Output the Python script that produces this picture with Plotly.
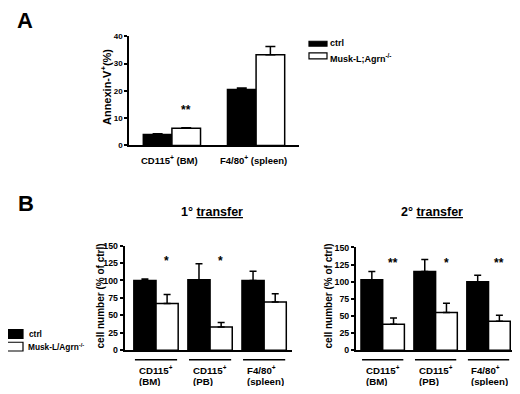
import plotly.graph_objects as go

# The page body has an 8px margin, so the figure is sized/offset to compensate.
OFF = 8
W, H = 520 - OFF, 394 - OFF

# ---------------- data ----------------
a_cats = ["CD115<sup>+</sup> (BM)", "F4/80<sup>+</sup> (spleen)"]
a_ctrl = [4.0, 20.5]
a_ctrl_err = [0.3, 0.6]
a_ko = [6.3, 33.3]
a_ko_err = [0.2, 3.0]
a_sig = ["**", "*"]
a_sig_y = [12.9, 40.7]

b_cat_line1 = ["CD115<sup>+</sup>", "CD115<sup>+</sup>", "F4/80<sup>+</sup>"]
b_cat_line2 = ["(BM)", "(PB)", "(spleen)"]

b1_ctrl = [100, 101, 100]
b1_ctrl_err = [2, 23, 13]
b1_ko = [67, 33.5, 69]
b1_ko_err = [13, 6.5, 12]
b1_sig = ["*", "*", ""]

b2_ctrl = [103, 115, 100]
b2_ctrl_err = [12, 17.5, 9.5]
b2_ko = [38, 55, 42.5]
b2_ko_err = [9, 13.5, 8.5]
b2_sig = ["**", "*", "**"]

sig_y_b = 128

legend_a = ["ctrl", "Musk-L;Agrn<sup>-/-</sup>"]
legend_b = ["ctrl", "Musk-L/Agrn<sup>-/-</sup>"]

FONT = "Arial, Liberation Sans, sans-serif"


def fx(x):
    return (x - OFF) / W


def fy(y):
    return 1 - (y - OFF) / H


fig = go.Figure()


def add_pair(ctrl, ctrl_err, ko, ko_err, xa, ya, w, cap):
    xs = list(range(len(ctrl)))
    common = dict(xaxis=xa, yaxis=ya, width=[w] * len(xs), showlegend=False,
                  marker_line=dict(color="black", width=1.5))
    fig.add_trace(go.Bar(x=xs, y=ctrl, offset=-w, marker_color="black",
                         error_y=dict(type="data", array=ctrl_err, arrayminus=[0] * len(xs),
                                      symmetric=False, color="black", thickness=1.5, width=cap),
                         **common))
    fig.add_trace(go.Bar(x=xs, y=ko, offset=0, marker_color="white",
                         error_y=dict(type="data", array=ko_err, arrayminus=[0] * len(xs),
                                      symmetric=False, color="black", thickness=1.5, width=cap),
                         **common))


add_pair(a_ctrl, a_ctrl_err, a_ko, a_ko_err, "x", "y", 0.34, 5)
add_pair(b1_ctrl, b1_ctrl_err, b1_ko, b1_ko_err, "x2", "y2", 0.41, 3.5)
add_pair(b2_ctrl, b2_ctrl_err, b2_ko, b2_ko_err, "x3", "y3", 0.41, 3.5)


def bold(size):
    return dict(family=FONT, size=size, color="black", weight="bold")


yax_common = dict(showline=True, linecolor="black", linewidth=1.5, ticks="outside",
                  ticklen=3, tickwidth=1.5, tickcolor="black", showgrid=False,
                  zeroline=False)
xax_common = dict(showline=True, linecolor="black", linewidth=1.5, ticks="",
                  showticklabels=False, showgrid=False, zeroline=False)

fig.update_layout(
    width=W, height=H,
    margin=dict(l=0, r=0, t=0, b=0),
    paper_bgcolor="white", plot_bgcolor="white",
    barmode="overlay",
    xaxis=dict(domain=[fx(129), fx(299)], range=[-0.51, 1.51], anchor="y", **xax_common),
    yaxis=dict(domain=[fy(144), fy(32)], range=[0, 40], tickvals=[0, 10, 20, 30, 40],
               anchor="x", tickfont=bold(8), **yax_common),
    xaxis2=dict(domain=[fx(124.5), fx(291.7)], range=[-0.583, 2.51], anchor="y2", **xax_common),
    yaxis2=dict(domain=[fy(354.3), fy(246.7)], range=[0, 150], tickvals=[0, 25, 50, 75, 100, 125, 150],
                anchor="x2", tickfont=bold(8.8), **yax_common),
    xaxis3=dict(domain=[fx(355.7), fx(515)], range=[-0.51, 2.5], anchor="y3", **xax_common),
    yaxis3=dict(domain=[fy(354.3), fy(248.7)], range=[0, 150], tickvals=[0, 25, 50, 75, 100, 125, 150],
                anchor="x3", tickfont=bold(8.8), **yax_common),
)

ann = []
shapes = []

# panel letters
ann.append(dict(text="A", x=fx(25), y=fy(16), xref="paper", yref="paper", showarrow=False,
                font=bold(22), xanchor="center", yanchor="middle"))
ann.append(dict(text="B", x=fx(26), y=fy(204), xref="paper", yref="paper", showarrow=False,
                font=bold(22), xanchor="center", yanchor="middle"))

# panel A y title and category labels
ann.append(dict(text="Annexin-V<sup>+</sup>(%)", x=fx(106), y=fy(84), xref="paper", yref="paper",
                showarrow=False, textangle=-90, font=bold(11), xanchor="center", yanchor="middle"))
for i, c in enumerate(a_cats):
    ann.append(dict(text=c, x=i - 0.03, y=fy(159), xref="x", yref="paper", showarrow=False,
                    font=bold(9.5), xanchor="center", yanchor="middle"))
for i, s in enumerate(a_sig):
    ann.append(dict(text=s, x=i + 0.17, y=a_sig_y[i], xref="x", yref="y", showarrow=False,
                    font=bold(12), xanchor="center", yanchor="middle"))

# panel A legend
shapes.append(dict(type="rect", xref="paper", yref="paper", x0=fx(309), x1=fx(327), y0=fy(42), y1=fy(37),
                   fillcolor="black", line=dict(color="black", width=1.2)))
shapes.append(dict(type="rect", xref="paper", yref="paper", x0=fx(309), x1=fx(327), y0=fy(55), y1=fy(49),
                   fillcolor="white", line=dict(color="black", width=1.2)))
ann.append(dict(text=legend_a[0], x=fx(328), y=fy(39), xref="paper", yref="paper", showarrow=False,
                font=bold(9), xanchor="left", yanchor="middle"))
ann.append(dict(text=legend_a[1], x=fx(328), y=fy(54), xref="paper", yref="paper", showarrow=False,
                font=bold(9), xanchor="left", yanchor="middle"))

# panel B legend
shapes.append(dict(type="rect", xref="paper", yref="paper", x0=fx(6), x1=fx(23), y0=fy(342), y1=fy(333),
                   fillcolor="black", line=dict(color="black", width=1.2)))
shapes.append(dict(type="rect", xref="paper", yref="paper", x0=fx(6), x1=fx(23), y0=fy(355), y1=fy(346),
                   fillcolor="white", line=dict(color="black", width=1.2)))
ann.append(dict(text=legend_b[0], x=fx(27), y=fy(338), xref="paper", yref="paper", showarrow=False,
                font=bold(8.3), xanchor="left", yanchor="middle"))
ann.append(dict(text=legend_b[1], x=fx(26), y=fy(351), xref="paper", yref="paper", showarrow=False,
                font=bold(8.3), xanchor="left", yanchor="middle"))

# panel B titles
ann.append(dict(text="1° <u>transfer</u>", x=fx(211.5), y=fy(212.5), xref="paper", yref="paper",
                showarrow=False, font=bold(12.5), xanchor="center", yanchor="middle"))
ann.append(dict(text="2° <u>transfer</u>", x=fx(431.5), y=fy(212.5), xref="paper", yref="paper",
                showarrow=False, font=bold(12.5), xanchor="center", yanchor="middle"))

# panel B y titles
for xp in (100, 328):
    ann.append(dict(text="cell number (% of ctrl)", x=fx(xp), y=fy(299), xref="paper", yref="paper",
                    showarrow=False, textangle=-90, font=bold(10), xanchor="center", yanchor="middle"))

# panel B group lines, labels, stars
for xr, yr, sigs in (("x2", "y2", b1_sig), ("x3", "y3", b2_sig)):
    for i in range(len(b_cat_line1)):
        shapes.append(dict(type="line", xref=xr, yref="paper", x0=i - 0.39, x1=i + 0.39,
                           y0=fy(364), y1=fy(364), line=dict(color="black", width=1.5)))
        ann.append(dict(text=b_cat_line1[i], x=i - 0.36, y=fy(374.6), xref=xr, yref="paper",
                        showarrow=False, font=bold(9.7), xanchor="left", yanchor="middle",
                        height=10, valign="middle"))
        ann.append(dict(text=b_cat_line2[i], x=i - 0.36, y=fy(385.4), xref=xr, yref="paper",
                        showarrow=False, font=bold(9.7), xanchor="left", yanchor="middle",
                        height=10, valign="middle"))
        if sigs[i]:
            ann.append(dict(text=sigs[i], x=i + 0.2, y=sig_y_b, xref=xr, yref=yr,
                            showarrow=False, font=bold(12), xanchor="center", yanchor="middle"))

fig.update_layout(annotations=ann, shapes=shapes)
fig.write_html("out.html")
